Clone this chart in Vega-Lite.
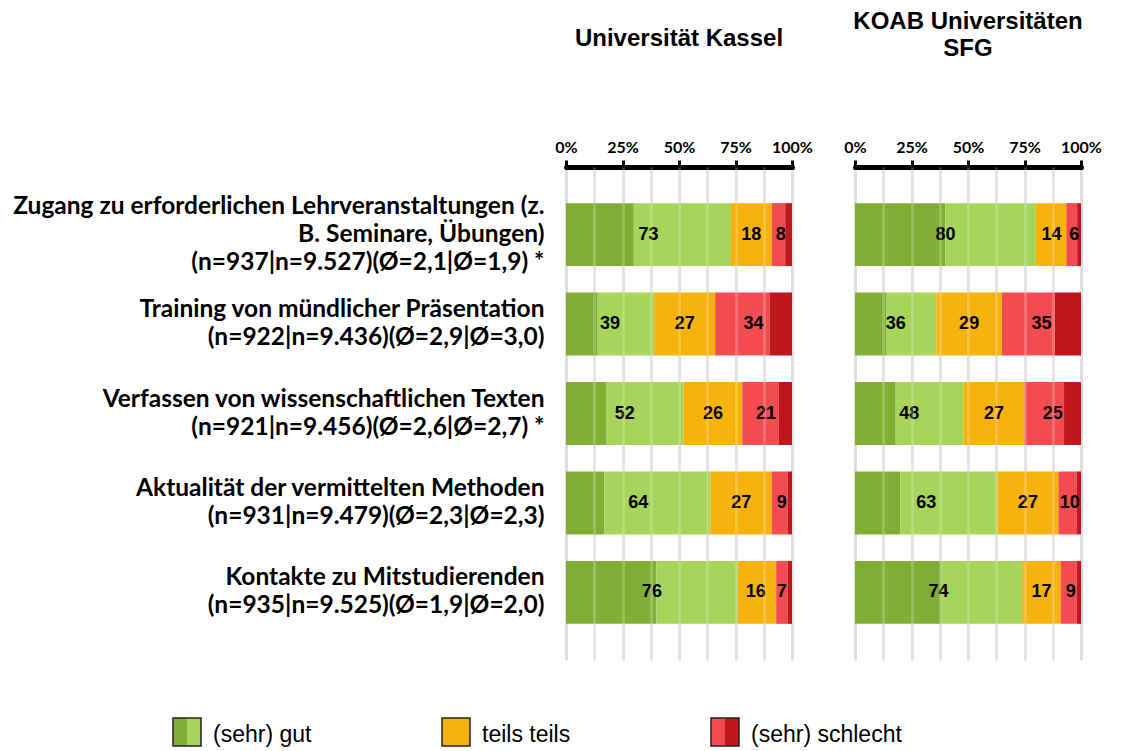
{
  "$schema": "https://vega.github.io/schema/vega-lite/v6.json",
  "background": "white",
  "padding": {"left": 12, "top": 10, "right": 5, "bottom": 0},
  "config": {"view": {"stroke": null}, "font": "Liberation Sans"},
  "datasets": {
    "bars": [
      {"panel": "Kassel", "item": "Zugang zu erforderlichen Lehrveranstaltungen (z.\nB. Seminare, Übungen)\u00a0\n(n=937|n=9.527)(Ø=2,1|Ø=1,9) *", "s1_sehr_gut": 30, "s2_gut": 43, "s3_teils": 18, "s4_schlecht": 6, "s5_sehr_schlecht": 3, "l1_gut": 73, "l2_teils": 18, "l3_schlecht": 8},
      {"panel": "Kassel", "item": "Training von mündlicher Präsentation\u00a0\n(n=922|n=9.436)(Ø=2,9|Ø=3,0)", "s1_sehr_gut": 14, "s2_gut": 25, "s3_teils": 27, "s4_schlecht": 24, "s5_sehr_schlecht": 10, "l1_gut": 39, "l2_teils": 27, "l3_schlecht": 34},
      {"panel": "Kassel", "item": "Verfassen von wissenschaftlichen Texten\u00a0\n(n=921|n=9.456)(Ø=2,6|Ø=2,7) *", "s1_sehr_gut": 18, "s2_gut": 34, "s3_teils": 26, "s4_schlecht": 16, "s5_sehr_schlecht": 6, "l1_gut": 52, "l2_teils": 26, "l3_schlecht": 21},
      {"panel": "Kassel", "item": "Aktualität der vermittelten Methoden\u00a0\n(n=931|n=9.479)(Ø=2,3|Ø=2,3)", "s1_sehr_gut": 17, "s2_gut": 47, "s3_teils": 27, "s4_schlecht": 7, "s5_sehr_schlecht": 2, "l1_gut": 64, "l2_teils": 27, "l3_schlecht": 9},
      {"panel": "Kassel", "item": "Kontakte zu Mitstudierenden\u00a0\n(n=935|n=9.525)(Ø=1,9|Ø=2,0)", "s1_sehr_gut": 40, "s2_gut": 36, "s3_teils": 17, "s4_schlecht": 5, "s5_sehr_schlecht": 2, "l1_gut": 76, "l2_teils": 16, "l3_schlecht": 7},
      {"panel": "KOAB", "item": "Zugang zu erforderlichen Lehrveranstaltungen (z.\nB. Seminare, Übungen)\u00a0\n(n=937|n=9.527)(Ø=2,1|Ø=1,9) *", "s1_sehr_gut": 40, "s2_gut": 40, "s3_teils": 13.5, "s4_schlecht": 4.8, "s5_sehr_schlecht": 1.7, "l1_gut": 80, "l2_teils": 14, "l3_schlecht": 6},
      {"panel": "KOAB", "item": "Training von mündlicher Präsentation\u00a0\n(n=922|n=9.436)(Ø=2,9|Ø=3,0)", "s1_sehr_gut": 14, "s2_gut": 22, "s3_teils": 29, "s4_schlecht": 23.5, "s5_sehr_schlecht": 11.5, "l1_gut": 36, "l2_teils": 29, "l3_schlecht": 35},
      {"panel": "KOAB", "item": "Verfassen von wissenschaftlichen Texten\u00a0\n(n=921|n=9.456)(Ø=2,6|Ø=2,7) *", "s1_sehr_gut": 18, "s2_gut": 30, "s3_teils": 27, "s4_schlecht": 17.5, "s5_sehr_schlecht": 7.5, "l1_gut": 48, "l2_teils": 27, "l3_schlecht": 25},
      {"panel": "KOAB", "item": "Aktualität der vermittelten Methoden\u00a0\n(n=931|n=9.479)(Ø=2,3|Ø=2,3)", "s1_sehr_gut": 20, "s2_gut": 43, "s3_teils": 27, "s4_schlecht": 8, "s5_sehr_schlecht": 2, "l1_gut": 63, "l2_teils": 27, "l3_schlecht": 10},
      {"panel": "KOAB", "item": "Kontakte zu Mitstudierenden\u00a0\n(n=935|n=9.525)(Ø=1,9|Ø=2,0)", "s1_sehr_gut": 38, "s2_gut": 36, "s3_teils": 17, "s4_schlecht": 7, "s5_sehr_schlecht": 2, "l1_gut": 74, "l2_teils": 17, "l3_schlecht": 9}
    ],
    "legend": [
      {"entry": "(sehr) gut", "left": "s1_sehr_gut", "right": "s2_gut"},
      {"entry": "teils teils", "left": "s3_teils", "right": "s3_teils"},
      {"entry": "(sehr) schlecht", "left": "s4_schlecht", "right": "s5_sehr_schlecht"}
    ]
  },
  "spacing": 55,
  "vconcat": [
    {
      "spacing": 30,
      "hconcat": [
        {
          "width": 226,
          "height": 493,
          "title": {"text": "Universität Kassel", "anchor": "middle", "frame": "group", "offset": 78, "dy": -10, "fontSize": 24, "font": "Liberation Sans", "fontWeight": "bold", "color": "black", "lineHeight": 27},
          "data": {"name": "bars"},
          "transform": [{"filter": "datum.panel == 'Kassel'"}],
          "resolve": {"axis": {"x": "independent"}},
          "layer": [
            {
              "transform": [{"fold": ["s1_sehr_gut", "s2_gut", "s3_teils", "s4_schlecht", "s5_sehr_schlecht"], "as": ["cat", "pct"]}],
              "mark": {"type": "bar"},
              "encoding": {
                "y": {"field": "item", "type": "nominal", "sort": null, "scale": {"paddingInner": 0.296, "paddingOuter": 0.404},
                  "axis": {"title": null, "domain": false, "ticks": false, "tickSize": 0, "grid": false, "labelPadding": 22, "labelFont": "Lato", "labelFontWeight": "bold", "labelFontSize": 24.5, "labelLineHeight": 28, "labelLimit": 800, "labelColor": "black", "labelExpr": "split(datum.value, '\\n')",
                    "labelOffset": {"condition": {"test": "length(split(datum.value, '\\n')) == 3", "value": -28}, "value": -14}}},
                "x": {"field": "pct", "type": "quantitative", "stack": "zero", "scale": {"domain": [0, 100], "nice": false},
                  "axis": {"orient": "top", "title": null, "values": [0, 12.5, 25, 37.5, 50, 62.5, 75, 87.5, 100], "labelExpr": "datum.value % 25 == 0 ? datum.value + '%' : ''", "labelFont": "Lato", "labelFontSize": 16, "labelFontWeight": "bold", "labelColor": "black", "labelPadding": 5, "labelOverlap": false, "labelFlush": false, "domainColor": "black", "domainWidth": 5, "domainCap": "round", "tickColor": {"condition": {"test": "datum.value % 25 == 0", "value": "black"}, "value": "transparent"}, "tickWidth": 3, "tickSize": 7, "grid": true, "gridColor": "#dedede", "gridWidth": 3}},
                "color": {"field": "cat", "type": "nominal", "scale": {"domain": ["s1_sehr_gut", "s2_gut", "s3_teils", "s4_schlecht", "s5_sehr_schlecht"], "range": ["#80AE35", "#A7D45B", "#F8B20C", "#F24C52", "#C0171D"]}, "legend": null},
                "order": {"field": "cat"}
              }
            },
            {
              "transform": [
                {"fold": ["l1_gut", "l2_teils", "l3_schlecht"], "as": ["lk", "lv"]},
                {"stack": "lv", "groupby": ["item"], "sort": [{"field": "lk"}], "as": ["a0", "a1"]},
                {"fold": ["a0", "a1"], "as": ["edge", "pos"]},
                {"aggregate": [{"op": "mean", "field": "pos", "as": "mid"}], "groupby": ["item", "lk", "lv"]}
              ],
              "mark": {"type": "text", "font": "Liberation Sans", "fontWeight": "bold", "fontSize": 18, "color": "black", "baseline": "middle"},
              "encoding": {
                "y": {"field": "item", "type": "nominal", "sort": null},
                "x": {"field": "mid", "type": "quantitative",
                  "axis": {"orient": "bottom", "title": null, "values": [12.5, 25, 37.5, 50, 62.5, 75, 87.5], "labels": false, "ticks": false, "domain": false, "grid": true, "gridColor": "white", "gridOpacity": 0.2, "gridWidth": 3, "zindex": 1}},
                "text": {"field": "lv", "type": "quantitative"}
              }
            }
          ]
        },
        {
          "width": 226,
          "height": 493,
          "title": {"text": ["KOAB Universitäten", "SFG"], "anchor": "middle", "frame": "group", "offset": 78, "fontSize": 24, "font": "Liberation Sans", "fontWeight": "bold", "color": "black", "lineHeight": 27},
          "data": {"name": "bars"},
          "transform": [{"filter": "datum.panel == 'KOAB'"}],
          "resolve": {"axis": {"x": "independent"}},
          "layer": [
            {
              "transform": [{"fold": ["s1_sehr_gut", "s2_gut", "s3_teils", "s4_schlecht", "s5_sehr_schlecht"], "as": ["cat", "pct"]}],
              "mark": {"type": "bar"},
              "encoding": {
                "y": {"field": "item", "type": "nominal", "sort": null, "scale": {"paddingInner": 0.296, "paddingOuter": 0.404}, "axis": null},
                "x": {"field": "pct", "type": "quantitative", "stack": "zero", "scale": {"domain": [0, 100], "nice": false},
                  "axis": {"orient": "top", "title": null, "values": [0, 12.5, 25, 37.5, 50, 62.5, 75, 87.5, 100], "labelExpr": "datum.value % 25 == 0 ? datum.value + '%' : ''", "labelFont": "Lato", "labelFontSize": 16, "labelFontWeight": "bold", "labelColor": "black", "labelPadding": 5, "labelOverlap": false, "labelFlush": false, "domainColor": "black", "domainWidth": 5, "domainCap": "round", "tickColor": {"condition": {"test": "datum.value % 25 == 0", "value": "black"}, "value": "transparent"}, "tickWidth": 3, "tickSize": 7, "grid": true, "gridColor": "#dedede", "gridWidth": 3}},
                "color": {"field": "cat", "type": "nominal", "scale": {"domain": ["s1_sehr_gut", "s2_gut", "s3_teils", "s4_schlecht", "s5_sehr_schlecht"], "range": ["#80AE35", "#A7D45B", "#F8B20C", "#F24C52", "#C0171D"]}, "legend": null},
                "order": {"field": "cat"}
              }
            },
            {
              "transform": [
                {"fold": ["l1_gut", "l2_teils", "l3_schlecht"], "as": ["lk", "lv"]},
                {"stack": "lv", "groupby": ["item"], "sort": [{"field": "lk"}], "as": ["a0", "a1"]},
                {"fold": ["a0", "a1"], "as": ["edge", "pos"]},
                {"aggregate": [{"op": "mean", "field": "pos", "as": "mid"}], "groupby": ["item", "lk", "lv"]}
              ],
              "mark": {"type": "text", "font": "Liberation Sans", "fontWeight": "bold", "fontSize": 18, "color": "black", "baseline": "middle"},
              "encoding": {
                "y": {"field": "item", "type": "nominal", "sort": null},
                "x": {"field": "mid", "type": "quantitative",
                  "axis": {"orient": "bottom", "title": null, "values": [12.5, 25, 37.5, 50, 62.5, 75, 87.5], "labels": false, "ticks": false, "domain": false, "grid": true, "gridColor": "white", "gridOpacity": 0.2, "gridWidth": 3, "zindex": 1}},
                "text": {"field": "lv", "type": "quantitative"}
              }
            }
          ]
        }
      ]
    },
    {
      "width": 226,
      "height": 28,
      "data": {"name": "legend"},
      "encoding": {"x": {"field": "entry", "type": "nominal", "sort": null, "scale": {"type": "point", "padding": 0, "range": [-379, 159]}, "axis": null}},
      "layer": [
        {"mark": {"type": "point", "shape": "M-1,-1H0V1H-1Z", "filled": true, "size": 784, "opacity": 1, "strokeWidth": 0},
         "encoding": {"color": {"field": "left", "type": "nominal", "scale": {"domain": ["s1_sehr_gut", "s2_gut", "s3_teils", "s4_schlecht", "s5_sehr_schlecht"], "range": ["#80AE35", "#A7D45B", "#F8B20C", "#F24C52", "#C0171D"]}, "legend": null}}},
        {"mark": {"type": "point", "shape": "M0,-1H1V1H0Z", "filled": true, "size": 784, "opacity": 1, "strokeWidth": 0},
         "encoding": {"color": {"field": "right", "type": "nominal", "scale": {"domain": ["s1_sehr_gut", "s2_gut", "s3_teils", "s4_schlecht", "s5_sehr_schlecht"], "range": ["#80AE35", "#A7D45B", "#F8B20C", "#F24C52", "#C0171D"]}, "legend": null}}},
        {"mark": {"type": "point", "shape": "square", "filled": false, "size": 784, "opacity": 1, "stroke": "#222222", "strokeWidth": 1.5}},
        {"mark": {"type": "text", "align": "left", "baseline": "middle", "dx": 26, "dy": 3, "fontSize": 23, "font": "Liberation Sans", "color": "black"},
         "encoding": {"text": {"field": "entry", "type": "nominal"}}}
      ]
    }
  ]
}
